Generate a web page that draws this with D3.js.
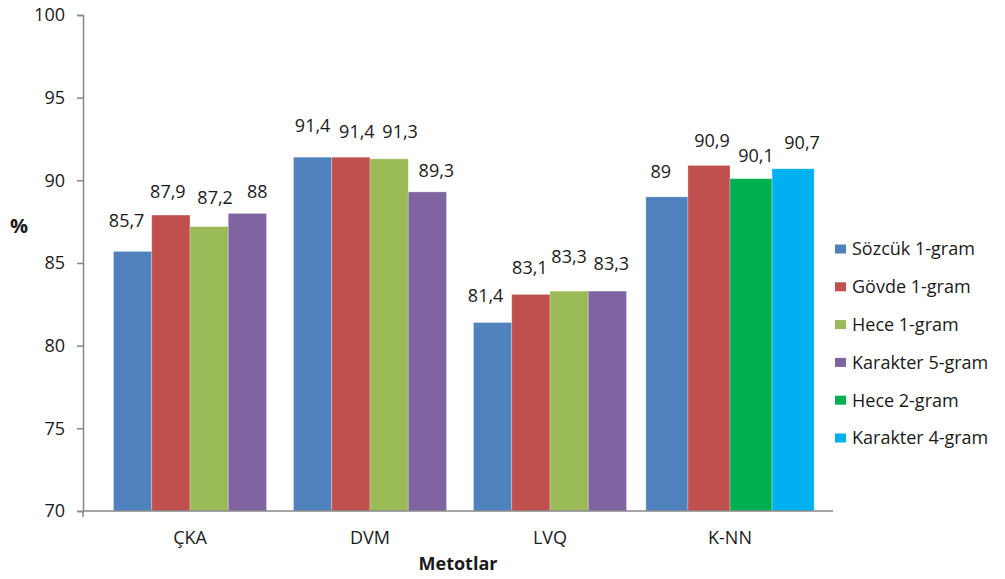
<!DOCTYPE html>
<html>
<head>
<meta charset="utf-8">
<script src="https://cdn.jsdelivr.net/npm/d3@7"></script>
<style>
  html, body { margin: 0; padding: 0; background: #fff; }
  svg text { font-family: "Open Sans", "Noto Sans", sans-serif; fill: #1a1a1a; }
</style>
</head>
<body>
<svg id="chart" width="1005" height="579"></svg>
<script>
// Accuracy (%) per method and feature set
const categories = ["ÇKA", "DVM", "LVQ", "K-NN"];
const seriesNames = ["Sözcük 1-gram", "Gövde 1-gram", "Hece 1-gram", "Karakter 5-gram", "Hece 2-gram", "Karakter 4-gram"];
const sozcuk1 = [85.7, 91.4, 81.4, 89];
const govde1 = [87.9, 91.4, 83.1, 90.9];
const hece1 = [87.2, 91.3, 83.3, null];
const karakter5 = [88, 89.3, 83.3, null];
const hece2 = [null, null, null, 90.1];
const karakter4 = [null, null, null, 90.7];
const yTicks = [70, 75, 80, 85, 90, 95, 100];
const xTitle = "Metotlar";
const yTitle = "%";

const seriesValues = [sozcuk1, govde1, hece1, karakter5, hece2, karakter4];
const colors = ["#4F81BD", "#C0504D", "#9BBB59", "#8064A2", "#00B050", "#00B0F0"];

// Label placement tweaks [dx, dy above bar top], indexed by series then category
const labelShift = [
  [[-6, 24], [0, 25], [-7, 21], [-6, 19]],
  [[-3, 17], [6, 19], [-1, 20], [3, 18]],
  [[6, 23], [11, 21], [0, 28], null],
  [[10, 15], [9, 15], [4, 21], null],
  [null, null, null, [5, 17]],
  [null, null, null, [9, 20]]
];
// Share of each category band covered by its bar cluster
const clusterFill = [0.85, 0.85, 0.85, 0.935];

const svg = d3.select("#chart");
const fmt = v => String(v).replace(".", ",");
const FS = "18px";

const y = d3.scaleLinear().domain([70, 100]).range([511, 15]);
const x = d3.scaleBand().domain(categories).range([100, 820]);
const axisLeftX = 83, axisRightX = 833;

// y axis
const yAxis = svg.append("g")
  .attr("transform", `translate(${axisLeftX},0)`)
  .call(d3.axisLeft(y).tickValues(yTicks).tickSize(6).tickPadding(12).tickFormat(d3.format("d")));
yAxis.select(".domain").attr("stroke", "#868686").attr("stroke-width", 1.5);
yAxis.selectAll(".tick line").attr("stroke", "#868686").attr("stroke-width", 1.5);
yAxis.selectAll(".tick text").style("font-size", FS).attr("fill", "#1a1a1a");

// bars and value labels
categories.forEach((cat, ci) => {
  const present = seriesValues.map((vals, si) => ({ si, v: vals[ci] })).filter(d => d.v != null);
  const clusterW = x.bandwidth() * clusterFill[ci];
  const start = x(cat) + (x.bandwidth() - clusterW) / 2;
  const inner = d3.scaleBand().domain(present.map(d => d.si)).range([start, start + clusterW]);
  const g = svg.append("g").attr("class", "cluster");
  g.selectAll("rect").data(present).join("rect")
    .attr("x", d => inner(d.si))
    .attr("y", d => y(d.v))
    .attr("width", inner.bandwidth())
    .attr("height", d => y(70) - y(d.v))
    .attr("fill", d => colors[d.si])
    .attr("stroke", "rgba(255,255,255,0.35)")
    .attr("stroke-width", 0.8);
  g.selectAll("text").data(present).join("text")
    .attr("x", d => inner(d.si) + inner.bandwidth() / 2 + labelShift[d.si][ci][0])
    .attr("y", d => y(d.v) - labelShift[d.si][ci][1])
    .attr("text-anchor", "middle")
    .style("font-size", FS)
    .text(d => fmt(d.v));
});

// x axis line (no ticks)
svg.append("line")
  .attr("x1", axisLeftX).attr("x2", axisRightX)
  .attr("y1", y(70)).attr("y2", y(70))
  .attr("stroke", "#868686").attr("stroke-width", 1.5);
svg.append("line")
  .attr("x1", axisLeftX).attr("x2", axisLeftX)
  .attr("y1", y(70)).attr("y2", y(70) + 6)
  .attr("stroke", "#868686").attr("stroke-width", 1.5);

// category labels
svg.append("g").selectAll("text").data(categories).join("text")
  .attr("x", d => x(d) + x.bandwidth() / 2)
  .attr("y", 538)
  .attr("dy", "0.35em")
  .attr("text-anchor", "middle")
  .style("font-size", FS)
  .text(d => d);

// axis titles
svg.append("text")
  .attr("x", (axisLeftX + axisRightX) / 2).attr("y", 564).attr("dy", "0.35em")
  .attr("text-anchor", "middle").style("font-size", FS).style("font-weight", "bold")
  .text(xTitle);
svg.append("text")
  .attr("x", 19).attr("y", 226).attr("dy", "0.35em")
  .attr("text-anchor", "middle").style("font-size", "20px").style("font-weight", "bold")
  .text(yTitle);

// legend
const legend = svg.append("g").selectAll("g").data(seriesNames).join("g")
  .attr("transform", (d, i) => `translate(835,${249 + i * 37.8})`);
legend.append("rect").attr("x", 0).attr("y", -4.5).attr("width", 11).attr("height", 9)
  .attr("fill", (d, i) => colors[i]);
legend.append("text").attr("x", 17).attr("dy", "0.35em").style("font-size", FS).text(d => d);
</script>
</body>
</html>
